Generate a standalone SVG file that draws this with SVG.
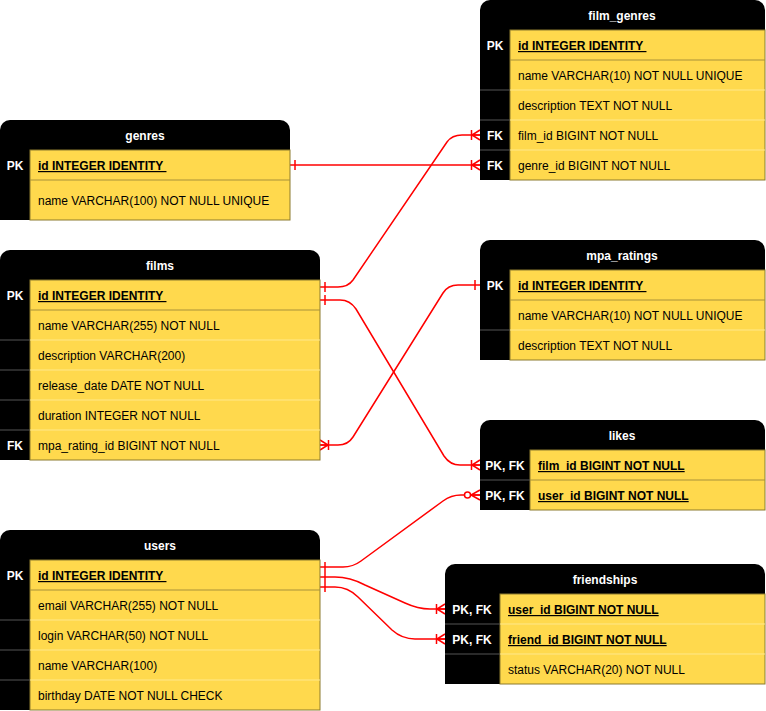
<svg xmlns="http://www.w3.org/2000/svg" width="766" height="711" viewBox="0 0 766 711">
<style>
  text { font-family: "Liberation Sans", Arial, sans-serif; font-size: 12px; }
  .hd { fill: #000; }
  .fld { fill: #FFD94D; stroke: #8C7A2E; stroke-width: 1; }
  .title { fill: #fff; font-weight: bold; text-anchor: middle; }
  .key { fill: #fff; font-weight: bold; text-anchor: middle; }
  .txt { fill: #000; }
  .pk { fill: #000; font-weight: bold; text-decoration: underline; white-space: pre; }
  .sepd { stroke: #A8913A; stroke-width: 1; }
  .sepl { stroke: #FFE88C; stroke-width: 1; }
  .sepk { stroke: #555; stroke-width: 1; }
  .conn { fill: none; stroke: #FF0000; stroke-width: 1.5; }
  .mk { fill: none; stroke: #FF0000; stroke-width: 1.5; }
</style>
<defs>
  <marker id="one" markerUnits="userSpaceOnUse" viewBox="-14 -7 16 14" refX="0" refY="0" markerWidth="16" markerHeight="14" orient="auto-start-reverse">
    <path class="mk" d="M-5,-5 V5"/>
  </marker>
  <marker id="manyOne" markerUnits="userSpaceOnUse" viewBox="-14 -7 16 14" refX="0" refY="0" markerWidth="16" markerHeight="14" orient="auto-start-reverse">
    <path class="mk" d="M0,-5 L-8,0 L0,5 M-8,0 H0 M-8.5,-5 V5"/>
  </marker>
  <marker id="zeroMany" markerUnits="userSpaceOnUse" viewBox="-18 -7 20 14" refX="0" refY="0" markerWidth="20" markerHeight="14" orient="auto-start-reverse">
    <path class="mk" d="M0,-5 L-9,0 L0,5 M-9,0 H0"/>
    <circle cx="-12.5" cy="0" r="3" fill="#fff" stroke="#FF0000" stroke-width="1.5"/>
  </marker>
</defs>

<g id="connectors">
  <path class="conn" d="M290,165 H480" marker-start="url(#one)" marker-end="url(#manyOne)"/>
  <path class="conn" d="M320,287 H338 Q348,287 353,280 L447,142 Q452,135 462,135 H480" marker-start="url(#one)" marker-end="url(#manyOne)"/>
  <path class="conn" d="M320,300 H340 Q350,300 356,309 L444,456 Q450,465 460,465 H480" marker-start="url(#one)" marker-end="url(#manyOne)"/>
  <path class="conn" d="M320,445 H338 Q348,445 353,437 L443,293 Q448,285 458,285 H480" marker-start="url(#manyOne)" marker-end="url(#one)"/>
  <path class="conn" d="M320,567 H343 Q353,567 361,561 L443,501 Q451,495 461,495 H480" marker-start="url(#one)" marker-end="url(#zeroMany)"/>
  <path class="conn" d="M320,577 H335 Q350,577 365,585 L405,603 Q418,609 430,609 H445" marker-start="url(#one)" marker-end="url(#manyOne)"/>
  <path class="conn" d="M320,587 H335 Q348,587 358,597 L392,630 Q402,639 415,639 H445" marker-start="url(#one)" marker-end="url(#manyOne)"/>
</g>

<g id="genres">
  <path class="hd" d="M0,130 A10,10 0 0 1 10,120 H280 A10,10 0 0 1 290,130 V220 H0 Z"/>
  <rect class="fld" x="30" y="150" width="260" height="70"/>
  <line class="sepd" x1="30" y1="180" x2="290" y2="180"/>
  <text class="title" x="145" y="140">genres</text>
  <text class="key" x="15" y="170">PK</text>
  <text class="pk" x="38" y="170">id INTEGER IDENTITY </text>
  <text class="txt" x="38" y="205">name VARCHAR(100) NOT NULL UNIQUE</text>
</g>

<g id="film_genres">
  <path class="hd" d="M480,10 A10,10 0 0 1 490,0 H755 A10,10 0 0 1 765,10 V180 H480 Z"/>
  <rect class="fld" x="510" y="30" width="255" height="150"/>
  <line class="sepd" x1="510" y1="60" x2="765" y2="60"/>
  <line class="sepl" x1="510" y1="90" x2="765" y2="90"/>
  <line class="sepl" x1="510" y1="120" x2="765" y2="120"/>
  <line class="sepl" x1="510" y1="150" x2="765" y2="150"/>
  <line class="sepk" x1="480" y1="90" x2="510" y2="90"/>
  <line class="sepk" x1="480" y1="120" x2="510" y2="120"/>
  <line class="sepk" x1="480" y1="150" x2="510" y2="150"/>
  <text class="title" x="622" y="20">film_genres</text>
  <text class="key" x="495" y="50">PK</text>
  <text class="key" x="495" y="140">FK</text>
  <text class="key" x="495" y="170">FK</text>
  <text class="pk" x="518" y="50">id INTEGER IDENTITY </text>
  <text class="txt" x="518" y="80">name VARCHAR(10) NOT NULL UNIQUE</text>
  <text class="txt" x="518" y="110">description TEXT NOT NULL</text>
  <text class="txt" x="518" y="140">film_id BIGINT NOT NULL</text>
  <text class="txt" x="518" y="170">genre_id BIGINT NOT NULL</text>
</g>

<g id="films">
  <path class="hd" d="M0,260 A10,10 0 0 1 10,250 H310 A10,10 0 0 1 320,260 V460 H0 Z"/>
  <rect class="fld" x="30" y="280" width="290" height="180"/>
  <line class="sepd" x1="30" y1="310" x2="320" y2="310"/>
  <line class="sepl" x1="30" y1="340" x2="320" y2="340"/>
  <line class="sepl" x1="30" y1="370" x2="320" y2="370"/>
  <line class="sepl" x1="30" y1="400" x2="320" y2="400"/>
  <line class="sepl" x1="30" y1="430" x2="320" y2="430"/>
  <line class="sepk" x1="0" y1="340" x2="30" y2="340"/>
  <line class="sepk" x1="0" y1="370" x2="30" y2="370"/>
  <line class="sepk" x1="0" y1="400" x2="30" y2="400"/>
  <line class="sepk" x1="0" y1="430" x2="30" y2="430"/>
  <text class="title" x="160" y="270">films</text>
  <text class="key" x="15" y="300">PK</text>
  <text class="key" x="15" y="450">FK</text>
  <text class="pk" x="38" y="300">id INTEGER IDENTITY </text>
  <text class="txt" x="38" y="330">name VARCHAR(255) NOT NULL</text>
  <text class="txt" x="38" y="360">description VARCHAR(200)</text>
  <text class="txt" x="38" y="390">release_date DATE NOT NULL</text>
  <text class="txt" x="38" y="420">duration INTEGER NOT NULL</text>
  <text class="txt" x="38" y="450">mpa_rating_id BIGINT NOT NULL</text>
</g>

<g id="mpa_ratings">
  <path class="hd" d="M480,250 A10,10 0 0 1 490,240 H755 A10,10 0 0 1 765,250 V360 H480 Z"/>
  <rect class="fld" x="510" y="270" width="255" height="90"/>
  <line class="sepd" x1="510" y1="300" x2="765" y2="300"/>
  <line class="sepl" x1="510" y1="330" x2="765" y2="330"/>
  <line class="sepk" x1="480" y1="330" x2="510" y2="330"/>
  <text class="title" x="622" y="260">mpa_ratings</text>
  <text class="key" x="495" y="290">PK</text>
  <text class="pk" x="518" y="290">id INTEGER IDENTITY </text>
  <text class="txt" x="518" y="320">name VARCHAR(10) NOT NULL UNIQUE</text>
  <text class="txt" x="518" y="350">description TEXT NOT NULL</text>
</g>

<g id="likes">
  <path class="hd" d="M480,430 A10,10 0 0 1 490,420 H755 A10,10 0 0 1 765,430 V510 H480 Z"/>
  <rect class="fld" x="530" y="450" width="235" height="60"/>
  <line class="sepd" x1="530" y1="480" x2="765" y2="480"/>
  <line class="sepk" x1="480" y1="480" x2="530" y2="480"/>
  <text class="title" x="622" y="440">likes</text>
  <text class="key" x="505" y="470">PK, FK</text>
  <text class="key" x="505" y="500">PK, FK</text>
  <text class="pk" x="538" y="470">film_id BIGINT NOT NULL</text>
  <text class="pk" x="538" y="500">user_id BIGINT NOT NULL</text>
</g>

<g id="users">
  <path class="hd" d="M0,540 A10,10 0 0 1 10,530 H310 A10,10 0 0 1 320,540 V710 H0 Z"/>
  <rect class="fld" x="30" y="560" width="290" height="150"/>
  <line class="sepd" x1="30" y1="590" x2="320" y2="590"/>
  <line class="sepl" x1="30" y1="620" x2="320" y2="620"/>
  <line class="sepl" x1="30" y1="650" x2="320" y2="650"/>
  <line class="sepl" x1="30" y1="680" x2="320" y2="680"/>
  <line class="sepk" x1="0" y1="620" x2="30" y2="620"/>
  <line class="sepk" x1="0" y1="650" x2="30" y2="650"/>
  <line class="sepk" x1="0" y1="680" x2="30" y2="680"/>
  <text class="title" x="160" y="550">users</text>
  <text class="key" x="15" y="580">PK</text>
  <text class="pk" x="38" y="580">id INTEGER IDENTITY </text>
  <text class="txt" x="38" y="610">email VARCHAR(255) NOT NULL</text>
  <text class="txt" x="38" y="640">login VARCHAR(50) NOT NULL</text>
  <text class="txt" x="38" y="670">name VARCHAR(100)</text>
  <text class="txt" x="38" y="700">birthday DATE NOT NULL CHECK</text>
</g>

<g id="friendships">
  <path class="hd" d="M445,574 A10,10 0 0 1 455,564 H755 A10,10 0 0 1 765,574 V684 H445 Z"/>
  <rect class="fld" x="500" y="594" width="265" height="90"/>
  <line class="sepl" x1="500" y1="624" x2="765" y2="624"/>
  <line class="sepl" x1="500" y1="654" x2="765" y2="654"/>
  <line class="sepk" x1="445" y1="624" x2="500" y2="624"/>
  <line class="sepk" x1="445" y1="654" x2="500" y2="654"/>
  <text class="title" x="605" y="584">friendships</text>
  <text class="key" x="472" y="614">PK, FK</text>
  <text class="key" x="472" y="644">PK, FK</text>
  <text class="pk" x="508" y="614">user_id BIGINT NOT NULL</text>
  <text class="pk" x="508" y="644">friend_id BIGINT NOT NULL</text>
  <text class="txt" x="508" y="674">status VARCHAR(20) NOT NULL</text>
</g>
</svg>
